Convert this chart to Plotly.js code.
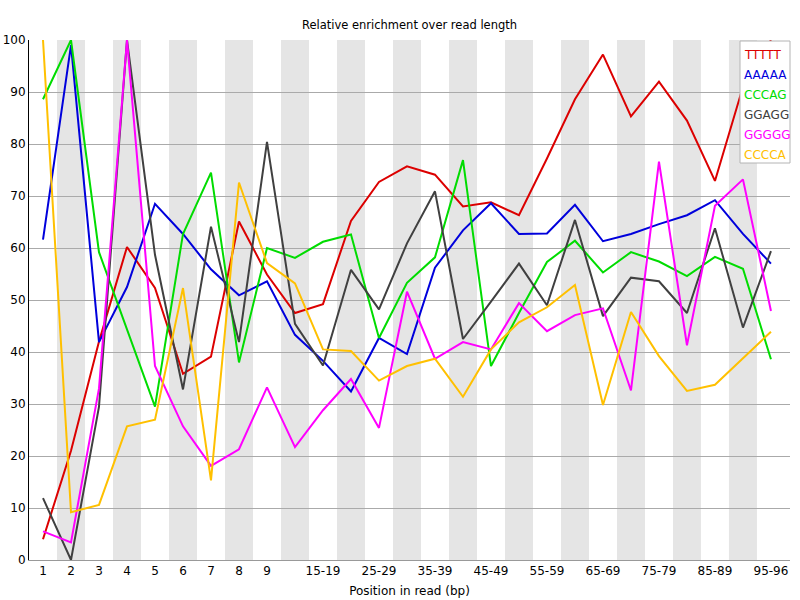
<!DOCTYPE html>
<html>
<head>
<meta charset="utf-8">
<script src="https://cdn.plot.ly/plotly-3.0.1.min.js"></script>
<style>html,body{margin:0;padding:0;background:#fff;}#chart{width:800px;height:600px;}</style>
</head>
<body>
<div id="chart"></div>
<script>
const categories = ["1","2","3","4","5","6","7","8","9","10-14","15-19","20-24","25-29","30-34","35-39","40-44","45-49","50-54","55-59","60-64","65-69","70-74","75-79","80-84","85-89","90-94","95-96"];
const shownTicks = ["1","2","3","4","5","6","7","8","9","15-19","25-29","35-39","45-49","55-59","65-69","75-79","85-89","95-96"];

const seriesNames = ["TTTTT","AAAAA","CCCAG","GGAGG","GGGGG","CCCCA"];
const seriesColors = ["#dc0000","#0000dc","#00dc00","#404040","#ff00ff","#ffc000"];

const TTTTT = [4,21,42,60.2,52.3,35.8,39.1,65.1,54.9,47.5,49.2,65.2,72.7,75.7,74.1,68.0,68.8,66.3,77.2,88.6,97.2,85.3,92.0,84.5,72.9,91,100];
const AAAAA = [61.6,99,41.9,52.5,68.5,62.7,55.9,50.9,53.6,43.3,38.3,32.4,42.7,39.6,56.2,63.4,68.6,62.7,62.8,68.3,61.3,62.7,64.6,66.3,69.2,62.7,57.0];
const CCCAG = [88.6,100,59.2,44.5,29.5,62.7,74.5,38.0,60.0,58.1,61.2,62.6,42.7,53.3,58.2,76.9,37.3,47.5,57.3,61.4,55.3,59.2,57.4,54.6,58.3,56.0,38.6];
const GGAGG = [11.9,0,29.5,100,58.7,32.8,64.1,41.9,80.4,45.4,37.4,55.8,48.2,60.9,70.9,42.5,49.7,57.0,49.0,65.4,46.9,54.3,53.6,47.5,63.8,44.7,59.4];
const GGGGG = [5.5,3.4,33,100,37.3,25.7,18.1,21.3,33.2,21.7,28.8,34.8,25.4,51.6,38.7,41.9,40.5,49.4,44.0,47.1,48.4,32.6,76.6,41.3,68.1,73.2,47.9];
const CCCCA = [100,9.2,10.6,25.7,27.0,52.3,15.3,72.6,57.1,53.2,40.5,40.2,34.5,37.3,38.7,31.4,40.5,45.7,48.6,52.9,29.8,47.7,39.2,32.5,33.7,38.9,43.9];

const seriesValues = [TTTTT,AAAAA,CCCAG,GGAGG,GGGGG,CCCCA];

const traces = seriesValues.map((vals,i)=>({
  type:'scatter', mode:'lines', x:categories, y:vals, name:seriesNames[i],
  line:{color:seriesColors[i], width:2}, showlegend:false, hoverinfo:'skip'
}));

const shapes = [];
for (let i=1;i<categories.length;i+=2){
  shapes.push({type:'rect', xref:'x', yref:'paper', x0:i-0.5, x1:i+0.5, y0:0, y1:1,
    fillcolor:'#e5e5e5', line:{width:0}, layer:'below'});
}
// legend box
const plotL = 29, plotR = 790, plotT = 40, plotB = 560;
const W = plotR-plotL, H = plotB-plotT;
const px = x => (x-plotL)/W;
const py = y => 1-(y-plotT)/H;
shapes.push({type:'rect', xref:'paper', yref:'paper', x0:px(740), x1:px(790), y0:py(163), y1:py(41),
  fillcolor:'#ffffff', line:{color:'#b4b4b4', width:1}, layer:'above'});

const annotations = seriesNames.map((n,i)=>({
  xref:'paper', yref:'paper', x:px(742), y:py(55+20*i), xanchor:'left', yanchor:'middle',
  text:n, showarrow:false, font:{family:'DejaVu Sans, sans-serif', size:12, color:seriesColors[i]}
}));

const layout = {
  width:800, height:600,
  margin:{l:plotL, r:800-plotR, t:plotT, b:600-plotB},
  paper_bgcolor:'#ffffff', plot_bgcolor:'#ffffff',
  font:{family:'DejaVu Sans, sans-serif', size:12, color:'#000'},
  title:{text:'Relative enrichment over read length', font:{size:11.5, color:'#000'}, x:0.5, xanchor:'center', y:1-25/600, yanchor:'middle', xref:'paper', yref:'container'},
  xaxis:{type:'category', categoryorder:'array', categoryarray:categories,
    range:[-0.5, 26.68], tickvals:shownTicks, ticktext:shownTicks, showgrid:false, zeroline:false,
    showline:true, linecolor:'#999999', linewidth:1, ticks:'', tickfont:{size:12},
    title:{text:'Position in read (bp)', font:{size:12}, standoff:9}, automargin:false, fixedrange:true},
  yaxis:{range:[0,100], tickmode:'linear', tick0:0, dtick:10, showgrid:true, gridcolor:'#aaaaaa', gridwidth:1,
    zeroline:false, showline:true, linecolor:'#000000', linewidth:1, ticks:'', tickfont:{size:12}, automargin:false, fixedrange:true},
  shapes:shapes, annotations:annotations, showlegend:false
};

Plotly.newPlot('chart', traces, layout, {staticPlot:true, displayModeBar:false});
</script>
</body>
</html>
